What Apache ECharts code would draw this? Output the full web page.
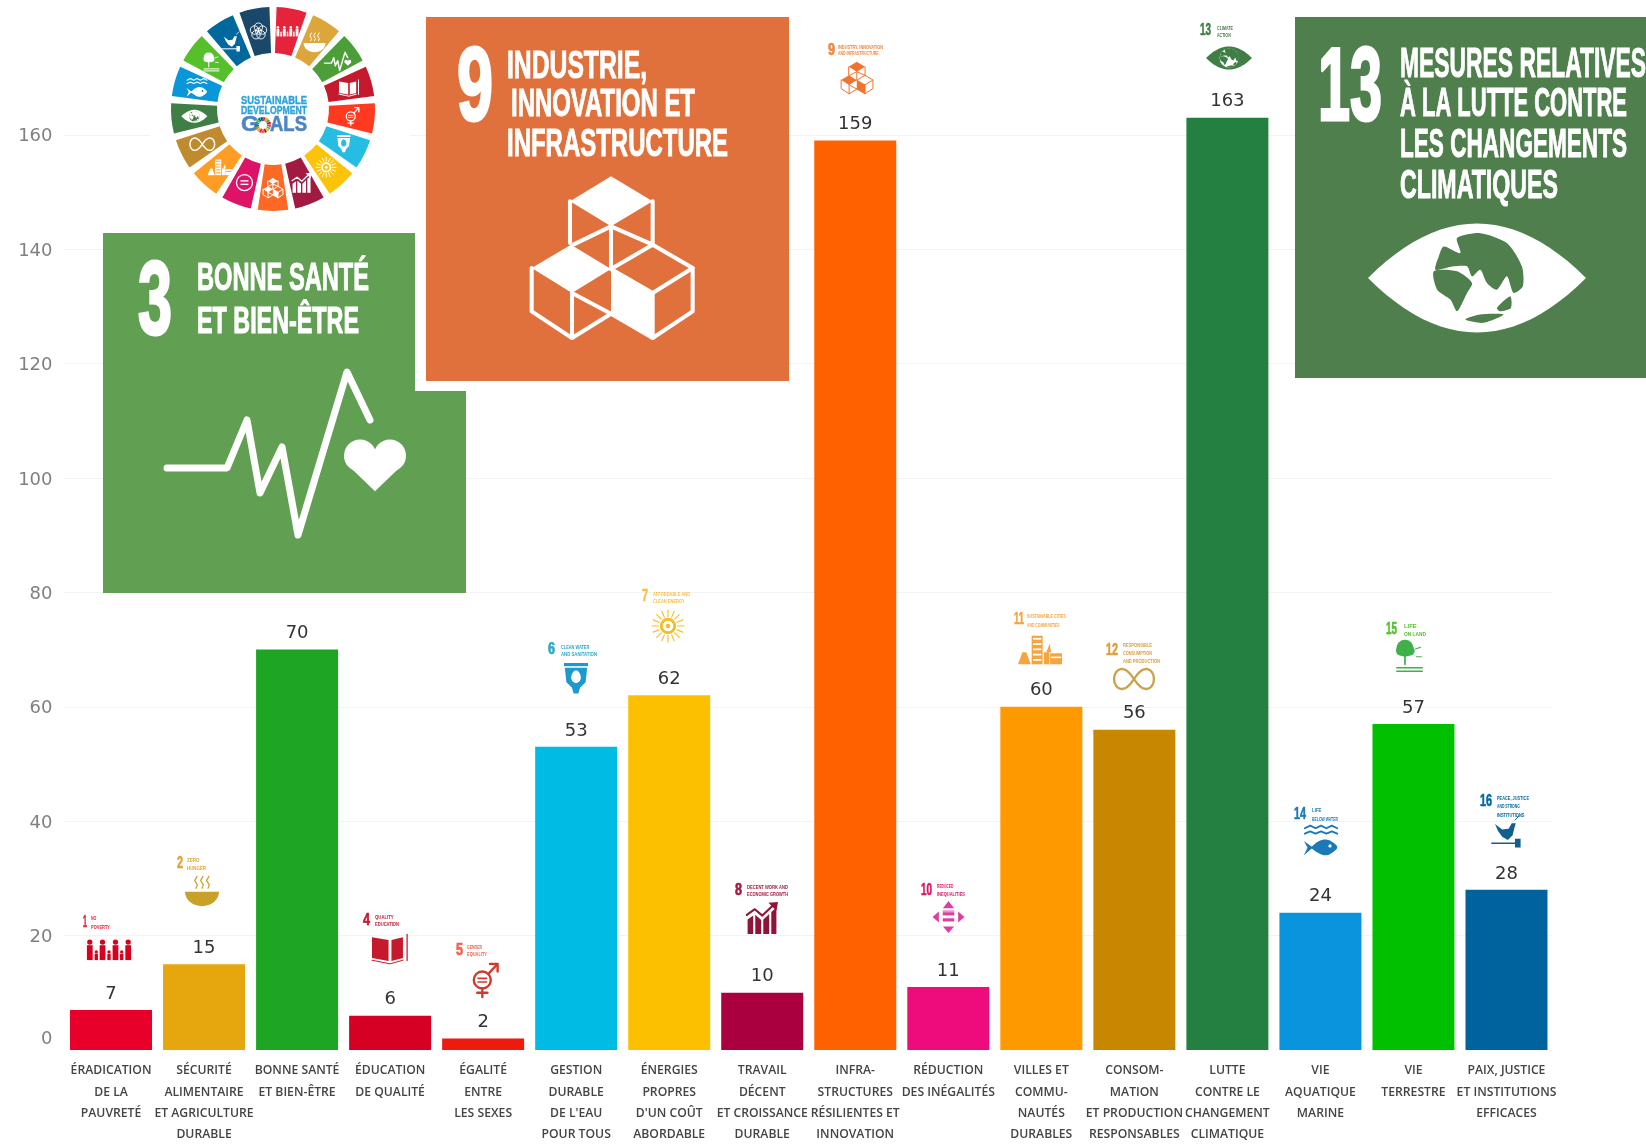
<!DOCTYPE html>
<html lang="fr">
<head>
<meta charset="utf-8">
<title>Objectifs de développement durable</title>
<script src="https://cdn.jsdelivr.net/npm/echarts@6/dist/echarts.min.js"></script>
<style>
html,body{margin:0;padding:0;background:#fff;overflow:hidden}
#chart{width:1646px;height:1144px;filter:blur(0.5px)}
</style>
</head>
<body>
<div id="chart"></div>
<script>
const categories = [
  "ÉRADICATION\nDE LA\nPAUVRETÉ",
  "SÉCURITÉ\nALIMENTAIRE\nET AGRICULTURE\nDURABLE",
  "BONNE SANTÉ\nET BIEN-ÊTRE",
  "ÉDUCATION\nDE QUALITÉ",
  "ÉGALITÉ\nENTRE\nLES SEXES",
  "GESTION\nDURABLE\nDE L'EAU\nPOUR TOUS",
  "ÉNERGIES\nPROPRES\nD'UN COÛT\nABORDABLE",
  "TRAVAIL\nDÉCENT\nET CROISSANCE\nDURABLE",
  "INFRA-\nSTRUCTURES\nRÉSILIENTES ET\nINNOVATION",
  "RÉDUCTION\nDES INÉGALITÉS",
  "VILLES ET\nCOMMU-\nNAUTÉS\nDURABLES",
  "CONSOM-\nMATION\nET PRODUCTION\nRESPONSABLES",
  "LUTTE\nCONTRE LE\nCHANGEMENT\nCLIMATIQUE",
  "VIE\nAQUATIQUE\nMARINE",
  "VIE\nTERRESTRE",
  "PAIX, JUSTICE\nET INSTITUTIONS\nEFFICACES"
];
const values = [7, 15, 70, 6, 2, 53, 62, 10, 159, 11, 60, 56, 163, 24, 57, 28];
const barColors = ["#e8002b","#e5a60e","#1ea524","#d60024","#ee1a0e","#00bce4","#fdc000","#ab0040",
                   "#ff6000","#ee0c7d","#ff9900","#c78800","#238040","#0a94de","#00c000","#00639e"];
const wheelColors = ["#e5243b","#dda63a","#4c9f38","#c5192d","#ff3a21","#26bde2","#fcc30b","#a21942","#fd6925",
                     "#dd1367","#fd9d24","#bf8b2e","#3f7e44","#0a97d9","#56c02b","#00689d","#19486a"];

/* ---------- decorative drawing helpers ---------- */
const els = [];
const add = e => { e.z = 100; e.silent = true; els.push(e); };
const NARROW = '"Liberation Sans Narrow","Liberation Sans",sans-serif';
const mctx = document.createElement('canvas').getContext('2d');
function T(str, x, yc, width, size, color, family, weight, strokeW) {
  family = family || NARROW; weight = weight || 'bold';
  mctx.font = weight + ' ' + size + 'px ' + family;
  const sx = width / mctx.measureText(str).width;
  const style = {text:str, fontFamily:family, fontWeight:weight, fontSize:size, fill:color, align:'left', verticalAlign:'middle'};
  if (strokeW) { style.stroke = color; style.lineWidth = strokeW; }
  add({type:'text', x:x, y:yc, scaleX:sx, scaleY:1, style:style});
}
const map = (pts,cx,cy,s) => pts.map(p => [cx+p[0]*s, cy+p[1]*s]);
function P(pts,cx,cy,s,fill,smooth){ add({type:'polygon', shape:{points:map(pts,cx,cy,s), smooth:smooth||0}, style:{fill:fill}}); }
function L(pts,cx,cy,s,color,lw){ add({type:'polyline', shape:{points:map(pts,cx,cy,s)}, style:{stroke:color, fill:'none', lineWidth:lw, lineCap:'round', lineJoin:'round'}}); }
function Cc(x,y,r,fill){ add({type:'circle', shape:{cx:x,cy:y,r:r}, style:{fill:fill}}); }
function Ring(x,y,r,color,lw){ add({type:'circle', shape:{cx:x,cy:y,r:r}, style:{fill:'none',stroke:color,lineWidth:lw}}); }
function Rc(x,y,w,h,fill){ add({type:'rect', shape:{x:x,y:y,width:w,height:h}, style:{fill:fill}}); }

/* icons: unit box centred on cx,cy with half-size s */
function people(cx,cy,s,c){
  [-.8,-.27,.27,.8].forEach(o=>{
    Cc(cx+o*s,cy-.33*s,.11*s,c); Rc(cx+(o-.12)*s,cy-.2*s,.24*s,.62*s,c);
  });
  [-.53,0,.53].forEach(o=>{
    Cc(cx+o*s,cy+.08*s,.07*s,c); Rc(cx+(o-.07)*s,cy+.16*s,.14*s,.26*s,c);
  });
}
function bowl(cx,cy,s,c){
  const pts=[]; for(let i=0;i<=16;i++){const a=Math.PI*i/16; pts.push([Math.cos(a),.1+.85*Math.sin(a)]);}
  P(pts,cx,cy,s,c);
  [-.35,0,.35].forEach(o=>L([[o,-.1],[o+.08,-.3],[o-.08,-.55],[o+.06,-.8]],cx,cy,s,c,Math.max(1,.07*s)));
}
function heart(cx,cy,s,c){
  Cc(cx-.48*s,cy-.3*s,.52*s,c); Cc(cx+.48*s,cy-.3*s,.52*s,c);
  P([[-.93,-.05],[0,.85],[.93,-.05],[0,-.3]],cx,cy,s,c);
}
const ecgPts=[[220,745],[410,745],[470,600],[510,820],[575,680],[625,945],[770,455],[840,600]].map(p=>[(p[0]-530)/320,(p[1]-700)/320]);
function health(cx,cy,s,c,lw){ L(ecgPts,cx,cy,s,c,lw); heart(cx+s*.98,cy+s*.11,s*.29,c); }
function book(cx,cy,s,c){
  P([[-1,-.6],[-.08,-.45],[-.08,.72],[-1,.55]],cx,cy,s,c);
  P([[.08,-.45],[.72,-.6],[.72,.55],[.08,.72]],cx,cy,s,c);
  L([[-1,.68],[0,.88],[.72,.68]],cx,cy,s,c,Math.max(1,.05*s));
  L([[.95,-.75],[.95,.7]],cx,cy,s,c,Math.max(1,.07*s));
}
function gender(cx,cy,s,c){
  const lw=Math.max(1.2,.14*s);
  Ring(cx-.1*s,cy,.5*s,c,lw);
  L([[-.1,.5],[-.1,1]],cx,cy,s,c,lw); L([[-.4,.75],[.2,.75]],cx,cy,s,c,lw);
  L([[.25,-.35],[.75,-.9]],cx,cy,s,c,lw); L([[.35,-.95],[.8,-.95],[.8,-.5]],cx,cy,s,c,lw);
  L([[-.35,-.1],[.15,-.1]],cx,cy,s,c,lw*.7); L([[-.35,.12],[.15,.12]],cx,cy,s,c,lw*.7);
}
function water(cx,cy,s,c,bg){
  Rc(cx-.75*s,cy-s,1.5*s,.2*s,c);
  P([[-.7,-.7],[.7,-.7],[.6,.2],[.25,.55],[.15,.9],[-.15,.9],[-.25,.55],[-.6,.2]],cx,cy,s,c);
  P([[0,-.55],[.3,-.08],[0,.25],[-.3,-.08]],cx,cy,s,bg,.5);
}
function sun(cx,cy,s,c){
  Ring(cx,cy,.42*s,c,.18*s); Cc(cx,cy,.14*s,c);
  for(let i=0;i<16;i++){const a=i*Math.PI/8; L([[.6*Math.cos(a),.6*Math.sin(a)],[Math.cos(a),Math.sin(a)]],cx,cy,s,c,Math.max(1,.07*s));}
}
function growth(cx,cy,s,c){
  const lw=Math.max(1.2,.13*s);
  P([[-.9,.1],[-.55,-.15],[-.55,1],[-.9,1]],cx,cy,s,c);
  P([[-.42,-.2],[-.05,.12],[-.05,1],[-.42,1]],cx,cy,s,c);
  P([[.08,.1],[.45,-.25],[.45,1],[.08,1]],cx,cy,s,c);
  P([[.58,-.38],[.9,-.65],[.9,1],[.58,1]],cx,cy,s,c);
  L([[-.95,-.2],[-.45,-.55],[.02,-.15],[.75,-.85]],cx,cy,s,c,lw);
  P([[.4,-.95],[1,-1],[.9,-.45]],cx,cy,s,c);
}
function cubes(cx,cy,s,c){
  const u=pts=>pts.map(p=>[(p[0]-578)/243,(p[1]-745)/243]);
  const lw=Math.max(1,.05*s);
  P(u([[575,500],[700,575],[575,650],[452,575]]),cx,cy,s,c);
  P(u([[455,705],[575,778],[458,850],[337,775]]),cx,cy,s,c);
  P(u([[575,778],[700,850],[700,985],[575,912]]),cx,cy,s,c);
  [
    [[452,575],[452,700]],[[700,575],[700,705]],[[575,650],[575,778]],
    [[462,705],[575,650],[700,705]],
    [[700,705],[820,775],[700,850],[575,778],[700,705]],
    [[820,775],[820,905],[700,985],[575,912]],[[700,850],[700,985]],
    [[337,775],[337,905],[458,985],[575,912]],[[458,850],[458,985]],[[458,850],[575,912]]
  ].forEach(l=>L(u(l),cx,cy,s,c,lw));
}
function ineq(cx,cy,s,c){
  P([[-.35,-.55],[.35,-.55],[0,-1]],cx,cy,s,c);
  P([[-.35,.6],[.35,.6],[0,1]],cx,cy,s,c);
  P([[-.6,-.35],[-.6,.35],[-1,0]],cx,cy,s,c);
  P([[.6,-.35],[.6,.35],[1,0]],cx,cy,s,c);
  Rc(cx-.36*s,cy-.3*s,.72*s,.2*s,c); Rc(cx-.36*s,cy+.08*s,.72*s,.2*s,c);
  Rc(cx-.36*s,cy-.4*s,.72*s,.06*s,c);
}
function city(cx,cy,s,c,bg){
  P([[-1,.65],[-.8,.1],[-.62,.1],[-.42,.65]],cx,cy,s,c);
  Rc(cx-.38*s,cy-.65*s,.5*s,1.3*s,c);
  Rc(cx+.18*s,cy+.1*s,.25*s,.55*s,c);
  P([[.28,.1],[.45,-.3],[.5,.1]],cx,cy,s,c);
  Rc(cx+.46*s,cy+.15*s,.54*s,.5*s,c);
  for(let i=0;i<5;i++) Rc(cx-.32*s,cy+(-.55+i*.24)*s,.38*s,.08*s,bg);
  Rc(cx+.5*s,cy+.3*s,.46*s,.07*s,bg);
}
function infinity(cx,cy,s,c){
  const pts=[]; for(let i=0;i<=48;i++){const t=2*Math.PI*i/48, d=1+Math.sin(t)*Math.sin(t);
    pts.push([.95*Math.cos(t)/d, 1.35*Math.sin(t)*Math.cos(t)/d]);}
  L(pts,cx,cy,s,c,Math.max(1.2,.11*s));
}
function fish(cx,cy,s,c,bg){
  const lw=Math.max(1,.1*s);
  L([[-.9,-.65],[-.6,-.8],[-.3,-.65],[0,-.8],[.3,-.65],[.6,-.8],[.9,-.65]],cx,cy,s,c,lw);
  L([[-.9,-.35],[-.6,-.48],[-.3,-.35],[0,-.48],[.3,-.35],[.6,-.48],[.9,-.35]],cx,cy,s,c,lw);
  P([[-.55,.4],[-.1,.05],[.35,-.02],[.75,.2],[.9,.42],[.7,.65],[.3,.85],[-.1,.75],[-.55,.45]],cx,cy,s,c,.4);
  P([[-.95,.05],[-.45,.42],[-.95,.85],[-.75,.42]],cx,cy,s,c);
  Cc(cx+.5*s,cy+.33*s,.09*s,bg);
}
function tree(cx,cy,s,c){
  Cc(cx-.12*s,cy-.4*s,.5*s,c); Cc(cx-.35*s,cy-.25*s,.3*s,c); Cc(cx+.15*s,cy-.25*s,.3*s,c);
  L([[-.12,0],[-.12,.55]],cx,cy,s,c,Math.max(1,.1*s));
  L([[-.6,.75],[.9,.75]],cx,cy,s,c,Math.max(1,.09*s)); L([[-.6,.95],[.9,.95]],cx,cy,s,c,Math.max(1,.09*s));
  L([[.5,-.35],[.8,-.45]],cx,cy,s,c,Math.max(.8,.06*s)); L([[.55,.1],[.85,.1]],cx,cy,s,c,Math.max(.8,.06*s));
}
function bird(cx,cy,s,c){
  P([[-.75,-.5],[-.3,-.15],[.1,-.2],[.3,-.55],[.55,-.55],[.45,-.2],[.35,.2],[.05,.5],[-.3,.3],[-.55,-.05]],cx,cy,s,c);
  L([[.5,-.75],[.75,-1]],cx,cy,s,c,Math.max(.8,.06*s));
  L([[-.95,.7],[.7,.7]],cx,cy,s,c,Math.max(1,.09*s));
  Rc(cx+.5*s,cy+.42*s,.35*s,.55*s,c);
}
function flower(cx,cy,s,c){
  for(let i=0;i<5;i++){const a=-Math.PI/2+i*2*Math.PI/5; Ring(cx+.42*s*Math.cos(a),cy+.42*s*Math.sin(a),.42*s,c,Math.max(.8,.09*s));}
  Ring(cx,cy,.3*s,c,Math.max(.8,.09*s));
}
const landParts=[
  [[530,715],[600,700],[680,730],[725,800],[728,860],[700,880],[680,830],[650,870],[620,850],[600,810],[575,830],[560,800],[520,800],[465,810],[475,770],[490,740],[540,760]],
  [[460,815],[530,815],[575,850],[560,880],[530,935],[510,900],[470,870]],
  [[650,925],[690,890],[692,925],[660,935]],
  [[555,960],[600,945],[670,945],[610,970]]
].map(part=>part.map(p=>[(p[0]-590)/328,(p[1]-835)/328]));
function eye(cx,cy,s,lens,disc,land){
  const pts=[]; for(let i=0;i<=24;i++){const x=-1+i/12; pts.push([x,-.5*(1-x*x)]);}
  for(let i=23;i>0;i--){const x=-1+i/12; pts.push([x,.5*(1-x*x)]);}
  P(pts,cx,cy,s,lens);
  Cc(cx,cy,.41*s,disc);
  landParts.forEach(p=>P(p,cx,cy,s,land,.25));
}

/* ---------- white ground behind wheel ---------- */
Rc(150,0,260,228,'#ffffff');

/* ---------- SDG wheel ---------- */
function wheel(cx,cy,r,r0,gap){
  const step=360/17;
  wheelColors.forEach((col,i)=>{
    const st=(-90+gap/2+i*step)*Math.PI/180, en=(-90-gap/2+(i+1)*step)*Math.PI/180;
    add({type:'sector', shape:{cx:cx,cy:cy,r:r,r0:r0,startAngle:st,endAngle:en,clockwise:true}, style:{fill:col}});
  });
}
wheel(273,109,102,56,4);
const wheelIcons=[
  (x,y,c)=>people(x,y,12,'#fff'),(x,y,c)=>bowl(x,y,11,'#fff'),(x,y,c)=>health(x,y,12,'#fff',1.4),
  (x,y,c)=>book(x,y,10,'#fff'),(x,y,c)=>gender(x,y,9,'#fff'),(x,y,c)=>water(x,y,9,'#fff',c),
  (x,y,c)=>sun(x,y,10,'#fff'),(x,y,c)=>growth(x,y,10,'#fff'),(x,y,c)=>cubes(x,y,10,'#fff'),
  (x,y,c)=>{Ring(x,y,8,'#fff',1.3);Rc(x-4,y-2.5,8,1.4,'#fff');Rc(x-4,y+1,8,1.4,'#fff');},
  (x,y,c)=>city(x,y,12,'#fff',c),(x,y,c)=>infinity(x,y,13,'#fff'),
  (x,y,c)=>eye(x,y,13,'#fff',c,'#fff'),(x,y,c)=>fish(x,y,11,'#fff',c),(x,y,c)=>tree(x,y,10,'#fff'),
  (x,y,c)=>bird(x,y,10,'#fff'),(x,y,c)=>flower(x,y,10,'#fff')
];
wheelIcons.forEach((f,i)=>{
  const a=(-90+(i+.5)*360/17)*Math.PI/180;
  f(273+79*Math.cos(a),109+79*Math.sin(a),wheelColors[i]);
});
T('SUSTAINABLE',241,101,66,11,'#2ea3dc',NARROW,'bold',.4);
T('DEVELOPMENT',241,111,66,11,'#2ea3dc',NARROW,'bold',.4);
T('G',241,125,18,22,'#4e85c5',NARROW,'bold',.6);
T('ALS',270,125,37,22,'#4e85c5',NARROW,'bold',.6);
wheel(263,125,8,4,3);

/* ---------- tile: goal 3 ---------- */
Rc(103,233,363,360,'#61a052');
Rc(415,225,60,166,'#ffffff');
T('3',138,306,34,103,'#ffffff',NARROW,'bold',3);
T('BONNE SANTÉ',197,280,172,38,'#ffffff',NARROW,'bold',1);
T('ET BIEN-ÊTRE',197,323,162,36,'#ffffff',NARROW,'bold',1);
add({type:'polyline', shape:{points:[[167,468],[227,468],[247,420],[260,493],[282,447],[298,535],[347,372],[370,420]]},
     style:{stroke:'#fff',fill:'none',lineWidth:7,lineCap:'round',lineJoin:'round'}});
heart(375,465,31,'#ffffff');

/* ---------- tile: goal 9 ---------- */
Rc(426,17,363,364,'#e0713d');
T('9',457,92,36,103,'#ffffff',NARROW,'bold',3);
T('INDUSTRIE,',507,67,140,39,'#ffffff',NARROW,'bold',1);
T('INNOVATION ET',511,105,184,39,'#ffffff',NARROW,'bold',1);
T('INFRASTRUCTURE',507,145,221,39,'#ffffff',NARROW,'bold',1);
cubes(612,258,81,'#ffffff');

/* ---------- tile: goal 13 ---------- */
Rc(1295,17,351,361,'#4f7f4c');
T('13',1318,91,64,104,'#ffffff',NARROW,'bold',3);
T('MESURES RELATIVES',1400,65,246,43,'#ffffff',NARROW,'bold',1);
T('À LA LUTTE CONTRE',1400,105,227,41,'#ffffff',NARROW,'bold',1);
T('LES CHANGEMENTS',1400,146,227,41,'#ffffff',NARROW,'bold',1);
T('CLIMATIQUES',1400,187,158,41,'#ffffff',NARROW,'bold',1);
eye(1477,278,109,'#ffffff','#ffffff','#4f7f4c');

/* ---------- small goal headers and icons above the bars ---------- */
const headers=[
  ['1',83,87,923,['NO','POVERTY'],91,110,[918,927],'#e5243b'],
  ['2',177,183,864,['ZERO','HUNGER'],187,206,[860,868],'#dda63a'],
  ['4',363,370,921,['QUALITY','EDUCATION'],375,399,[917,924],'#c5192d'],
  ['5',456,463,951,['GENDER','EQUALITY'],467,487,[947,954],'#f0604a'],
  ['6',548,555,650,['CLEAN WATER','AND SANITATION'],561,597,[647,654],'#26a8c8'],
  ['7',642,648,597,['AFFORDABLE AND','CLEAN ENERGY'],653,690,[594,601],'#f6c243'],
  ['8',735,742,891,['DECENT WORK AND','ECONOMIC GROWTH'],747,788,[887,894],'#a21942'],
  ['9',828,835,51,['INDUSTRY, INNOVATION','AND INFRASTRUCTURE'],838,883,[47,53],'#f0853f'],
  ['10',921,932,891,['REDUCED','INEQUALITIES'],937,965,[886,894],'#dd1367'],
  ['11',1014,1024,620,['SUSTAINABLE CITIES','AND COMMUNITIES'],1027,1066,[616,625],'#f5a53f'],
  ['12',1106,1118,651,['RESPONSIBLE','CONSUMPTION','AND PRODUCTION'],1123,1160,[645,653,661],'#d9a03c'],
  ['13',1200,1211,31,['CLIMATE','ACTION'],1217,1233,[28,35],'#3f7e44'],
  ['14',1294,1306,815,['LIFE','BELOW WATER'],1312,1338,[810,819],'#1a7ab8'],
  ['15',1386,1397,630,['LIFE','ON LAND'],1404,1426,[626,634],'#56c02b'],
  ['16',1480,1492,802,['PEACE, JUSTICE','AND STRONG','INSTITUTIONS'],1497,1529,[798,806,815],'#00689d']
];
headers.forEach(h=>{
  T(h[0],h[1],h[3],h[2]-h[1],16,h[8],NARROW,'bold',.6);
  h[4].forEach((line,i)=>{
    const full = Math.max.apply(null,h[4].map(s=>s.length));
    T(line,h[5],h[7][i],(h[6]-h[5])*line.length/full,6,h[8],NARROW,'bold');
  });
});
people(109,950,24,'#d8001f');
bowl(202,890,17,'#c9a028');
book(390,948,18,'#c5192d');
gender(484,980,17,'#d0392b');
water(576,679,16,'#1c9ad0','#ffffff');
sun(668,626,16,'#f4bd2a');
growth(762,918,16,'#8f1438');
cubes(857,78,16,'#f0742e');
ineq(948.5,917,16,'#dd3fa0');
city(1040,650,22,'#f5a53f','#ffffff');
infinity(1134,679,21,'#c9a24a');
eye(1229,58,23,'#3f7e44','#ffffff','#3f7e44');
fish(1321,840,18,'#1a7ab8','#ffffff');
tree(1407,655,17,'#3fb04a');
bird(1507,832,16,'#0f5f8f');

/* ---------- chart ---------- */
const chart = echarts.init(document.getElementById('chart'), null, {renderer:'canvas'});
chart.setOption({
  animation:false,
  backgroundColor:'#ffffff',
  grid:{left:64.5, width:1488.5, top:77.6, height:972.4, containLabel:false, outerBoundsMode:'none'},
  xAxis:{
    type:'category', data:categories,
    axisLine:{show:false}, axisTick:{show:false},
    axisLabel:{interval:0, margin:10, lineHeight:21.4, fontSize:12.2, fontWeight:600,
               fontFamily:'"Open Sans",sans-serif', color:'#444444', hideOverlap:false}
  },
  yAxis:{
    type:'value', min:0, max:170, interval:20,
    axisLine:{show:false}, axisTick:{show:false},
    splitLine:{show:true, showMinLine:false, showMaxLine:false, lineStyle:{color:'#f3f3f3', width:1}},
    axisLabel:{margin:12, fontSize:18, padding:[4,0,0,0], fontFamily:'"DejaVu Sans",sans-serif', color:'#808080', showMaxLabel:false,
      formatter:v => v===0 ? '{z|0}' : String(v),
      rich:{z:{fontSize:18, fontFamily:'"DejaVu Sans",sans-serif', color:'#808080', padding:[0,0,25,0]}}}
  },
  series:[{
    type:'bar', barWidth:82,
    data:values.map((v,i)=>({value:v, itemStyle:{color:barColors[i]}})),
    label:{show:true, position:'top', distance:7, fontSize:18, fontFamily:'"DejaVu Sans",sans-serif', color:'#333333'}
  }],
  graphic:{elements:els}
});
</script>
</body>
</html>
